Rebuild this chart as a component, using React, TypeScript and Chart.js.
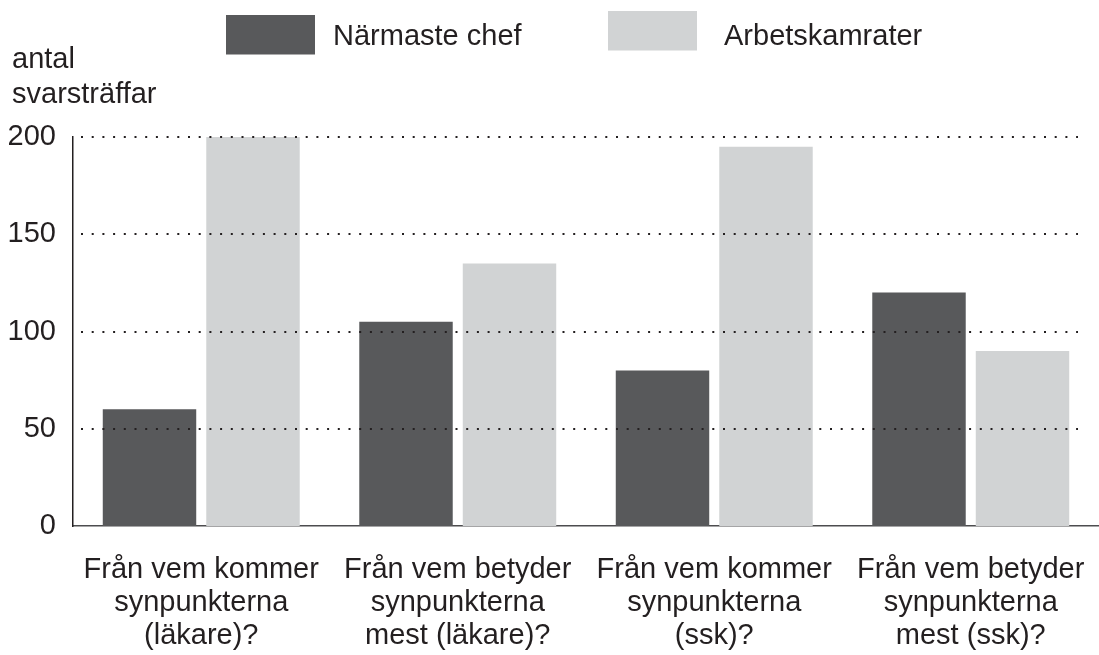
import React, { useEffect, useRef } from "react";
import { Chart, registerables } from "chart.js";

Chart.register(...registerables);

// ---- data ----
const categories: string[][] = [
  ["Från vem kommer", "synpunkterna", "(läkare)?"],
  ["Från vem betyder", "synpunkterna", "mest (läkare)?"],
  ["Från vem kommer", "synpunkterna", "(ssk)?"],
  ["Från vem betyder", "synpunkterna", "mest (ssk)?"],
];
const seriesNames = ["Närmaste chef", "Arbetskamrater"];
const narmasteChef = [60, 105, 80, 120];
const arbetskamrater = [200, 135, 195, 90];
const yTitleLines = ["antal", "svarsträffar"];
const yMin = 0;
const yMax = 200;
const yStep = 50;

// ---- style ----
const FONT = "'Liberation Sans', Arial, Helvetica, sans-serif";
const TEXT = "#231f20";
const DARK = "#58595b";
const LIGHT = "#d1d3d4";

const decorPlugin = {
  id: "decor",
  afterDatasetsDraw(chart: any) {
    const { ctx, chartArea, scales } = chart;
    const y = scales.y;
    ctx.save();
    ctx.strokeStyle = TEXT;
    ctx.lineWidth = 1.8;
    ctx.setLineDash([2, 8.7]);
    y.ticks.forEach((t: any) => {
      if (t.value <= yMin) return;
      const py = Math.round(y.getPixelForValue(t.value));
      ctx.beginPath();
      ctx.moveTo(chartArea.left + 8, py);
      ctx.lineTo(chartArea.right - 21, py);
      ctx.stroke();
    });
    ctx.restore();
  },
  afterDraw(chart: any) {
    const { ctx } = chart;
    ctx.save();
    ctx.font = `29px ${FONT}`;
    ctx.fillStyle = TEXT;
    ctx.textBaseline = "alphabetic";
    ctx.textAlign = "left";
    // y-axis title
    const titleBase = [67.5, 102.5];
    yTitleLines.forEach((line, i) => ctx.fillText(line, 12, titleBase[i]));
    // legend
    const boxX = [226, 608];
    const boxY = [15, 11];
    const textX = [333, 724];
    chart.data.datasets.forEach((ds: any, i: number) => {
      ctx.fillStyle = ds.backgroundColor;
      ctx.fillRect(boxX[i], boxY[i], 89, 39.5);
      ctx.fillStyle = TEXT;
      ctx.fillText(ds.label, textX[i], 45);
    });
    ctx.restore();
  },
};

export default function App() {
  const ref = useRef<HTMLCanvasElement | null>(null);

  useEffect(() => {
    if (!ref.current) return;
    const chart = new Chart(ref.current, {
      type: "bar",
      data: {
        labels: categories,
        datasets: [
          {
            label: seriesNames[0],
            data: narmasteChef,
            backgroundColor: DARK,
            borderWidth: 0,
            categoryPercentage: 0.807,
            barPercentage: 0.903,
          },
          {
            label: seriesNames[1],
            data: arbetskamrater,
            backgroundColor: LIGHT,
            borderWidth: 0,
            categoryPercentage: 0.807,
            barPercentage: 0.903,
          },
        ],
      },
      options: {
        responsive: false,
        animation: false,
        layout: { autoPadding: false, padding: { top: 137, left: 9, right: 0, bottom: 0 } },
        plugins: {
          legend: { display: false },
          title: { display: false },
          tooltip: { enabled: false },
        },
        scales: {
          x: {
            type: "category",
            offset: true,
            z: 1,
            grid: { display: false, drawTicks: false },
            border: { display: true, color: "#4d4d4f", width: 1.5 },
            ticks: {
              font: { family: FONT, size: 29, lineHeight: 1.15 },
              color: TEXT,
              padding: 27,
              maxRotation: 0,
              minRotation: 0,
              autoSkip: false,
            },
            afterFit(scale: any) {
              scale.paddingLeft = 0;
              scale.paddingRight = 0;
              scale.height = 129;
            },
          },
          y: {
            min: yMin,
            max: yMax,
            grid: { display: false, drawTicks: false },
            border: { display: true, color: TEXT, width: 1.5 },
            ticks: {
              stepSize: yStep,
              font: { family: FONT, size: 29 },
              color: TEXT,
              padding: 17,
            },
            afterFit(scale: any) {
              scale.width = 64;
              scale.paddingTop = 0;
              scale.paddingBottom = 0;
            },
          },
        },
      },
      plugins: [decorPlugin],
    });
    return () => chart.destroy();
  }, []);

  return (
    <div style={{ position: "fixed", left: 0, top: 0, width: 1099, height: 655, background: "#fff" }}>
      <canvas ref={ref} width={1099} height={655} style={{ display: "block" }} />
    </div>
  );
}
